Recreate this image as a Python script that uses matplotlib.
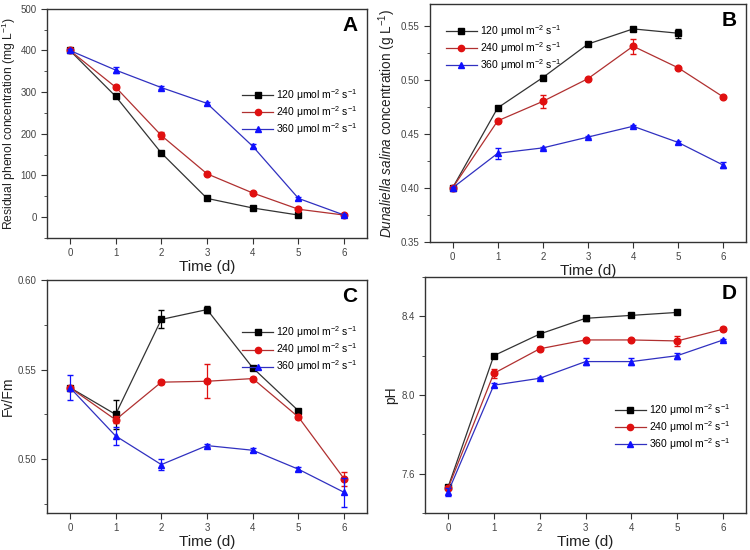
import matplotlib.pyplot as plt
from matplotlib.lines import Line2D
from matplotlib.ticker import MultipleLocator

plt.rcParams["font.family"] = ["Liberation Sans", "DejaVu Sans"]
plt.rcParams["mathtext.fontset"] = "custom"
plt.rcParams["mathtext.rm"] = "Liberation Sans"
plt.rcParams["mathtext.it"] = "Liberation Sans:italic"

days = [0, 1, 2, 3, 4, 5, 6]
labels = ["120 \u03bcmol m$^{-2}$ s$^{-1}$",
          "240 \u03bcmol m$^{-2}$ s$^{-1}$",
          "360 \u03bcmol m$^{-2}$ s$^{-1}$"]

# A: residual phenol (mg/L)
phenol_120 = [400, 290, 154, 45, 22, 5]
phenol_240 = [400, 312, 196, 104, 58, 19, 5]
phenol_360 = [400, 353, 311, 273, 170, 45, 5]
phenol_err_120 = [3, 3, 3, 2, 2, 1]
phenol_err_240 = [3, 4, 8, 3, 3, 2, 1]
phenol_err_360 = [4, 8, 4, 3, 5, 3, 2]

# B: Dunaliella salina concentration (g/L)
dun_120 = [0.400, 0.474, 0.502, 0.533, 0.547, 0.543]
dun_240 = [0.400, 0.462, 0.480, 0.501, 0.531, 0.511, 0.484]
dun_360 = [0.400, 0.432, 0.437, 0.447, 0.457, 0.442, 0.421]
dun_err_120 = [0.001, 0.001, 0.002, 0.001, 0.002, 0.004]
dun_err_240 = [0.001, 0.001, 0.006, 0.001, 0.007, 0.001, 0.001]
dun_err_360 = [0.001, 0.005, 0.001, 0.001, 0.001, 0.001, 0.003]

# C: Fv/Fm
fvfm_120 = [0.540, 0.525, 0.578, 0.5835, 0.551, 0.527]
fvfm_240 = [0.540, 0.522, 0.543, 0.5435, 0.545, 0.5235, 0.489]
fvfm_360 = [0.540, 0.513, 0.497, 0.5076, 0.505, 0.4944, 0.4815]
fvfm_err_120 = [0.001, 0.008, 0.005, 0.002, 0.001, 0.001]
fvfm_err_240 = [0.001, 0.002, 0.001, 0.0096, 0.001, 0.001, 0.004]
fvfm_err_360 = [0.007, 0.005, 0.003, 0.001, 0.001, 0.001, 0.008]

# D: pH
ph_120 = [7.53, 8.20, 8.31, 8.39, 8.405, 8.42]
ph_240 = [7.525, 8.11, 8.235, 8.28, 8.28, 8.275, 8.335]
ph_360 = [7.505, 8.05, 8.085, 8.17, 8.17, 8.20, 8.28]
ph_err_120 = [0.01, 0.005, 0.012, 0.014, 0.01, 0.005]
ph_err_240 = [0.01, 0.022, 0.01, 0.005, 0.005, 0.025, 0.01]
ph_err_360 = [0.02, 0.01, 0.005, 0.018, 0.018, 0.016, 0.005]

colors = ["#000000", "#e01010", "#1010ff"]
line_colors = ["#333333", "#b03030", "#3030c0"]
markers = ["s", "o", "^"]

fig = plt.figure(figsize=(7.5, 5.5), dpi=100)
axA = fig.add_axes([0.0627, 0.5673, 0.4267, 0.4167])
axB = fig.add_axes([0.5733, 0.5600, 0.4213, 0.4327])
axC = fig.add_axes([0.0627, 0.0673, 0.4267, 0.4236])
axD = fig.add_axes([0.5667, 0.0673, 0.4280, 0.4290])


def draw(ax, series, errs):
    for i, (y, e) in enumerate(zip(series, errs)):
        x = days[:len(y)]
        ax.errorbar(x, y, yerr=e, color=line_colors[i], lw=0.9,
                    marker=markers[i], ms=4.8, mfc=colors[i], mec=colors[i],
                    ecolor=colors[i], elinewidth=0.9, capsize=2.5,
                    zorder=3 + i)


def style(ax, ylim, major, minor, letter, ylabel, legend_loc, ylsize=8.7):
    ax.set_xlim(-0.5, 6.5)
    ax.set_ylim(*ylim)
    ax.xaxis.set_major_locator(MultipleLocator(1))
    ax.yaxis.set_major_locator(MultipleLocator(major))
    ax.yaxis.set_minor_locator(MultipleLocator(minor))
    ax.tick_params(which="both", direction="out", colors="#333333",
                   labelsize=7, labelcolor="#444444")
    ax.tick_params(which="major", length=4)
    ax.tick_params(which="minor", length=2.5)
    for s in ax.spines.values():
        s.set_color("#333333")
        s.set_linewidth(1.0)
    ax.set_xlabel("Time (d)", fontsize=11, labelpad=1, color="#222222")
    ax.set_ylabel(ylabel, fontsize=ylsize, color="#222222", labelpad=2)
    ax.text(0.97, 0.97, letter, transform=ax.transAxes, ha="right",
            va="top", fontsize=15, fontweight="bold")
    handles = [Line2D([], [], color=line_colors[i], lw=0.9,
                      marker=markers[i], ms=4.5, mfc=colors[i],
                      mec=colors[i]) for i in range(3)]
    ax.legend(handles, labels, frameon=False, fontsize=7.5,
              handlelength=3.0, handletextpad=0.3, labelspacing=0.12,
              loc=legend_loc[0], bbox_to_anchor=legend_loc[1])


draw(axA, [phenol_120, phenol_240, phenol_360],
     [phenol_err_120, phenol_err_240, phenol_err_360])
style(axA, (-50, 500), 100, 50, "A",
      "Residual phenol concentration (mg L$^{-1}$)",
      ("upper right", (1.0, 0.70)))
axA.yaxis.set_major_formatter(plt.FormatStrFormatter("%d"))

draw(axB, [dun_120, dun_240, dun_360],
     [dun_err_120, dun_err_240, dun_err_360])
style(axB, (0.35, 0.57), 0.05, 0.025, "B",
      "$\\it{Dunaliella\\ salina}$ concentration (g L$^{-1}$)",
      ("upper left", (0.02, 0.96)), ylsize=9.8)
axB.yaxis.set_major_formatter(plt.FormatStrFormatter("%.2f"))

draw(axC, [fvfm_120, fvfm_240, fvfm_360],
     [fvfm_err_120, fvfm_err_240, fvfm_err_360])
style(axC, (0.47, 0.60), 0.05, 0.025, "C", "Fv/Fm",
      ("upper right", (1.0, 0.85)), ylsize=10)
axC.yaxis.set_major_formatter(plt.FormatStrFormatter("%.2f"))

draw(axD, [ph_120, ph_240, ph_360],
     [ph_err_120, ph_err_240, ph_err_360])
style(axD, (7.4, 8.6), 0.4, 0.2, "D", "pH",
      ("upper right", (0.98, 0.51)), ylsize=10)
axD.yaxis.set_major_formatter(plt.FormatStrFormatter("%.1f"))

fig.savefig("out.png", dpi=100)
